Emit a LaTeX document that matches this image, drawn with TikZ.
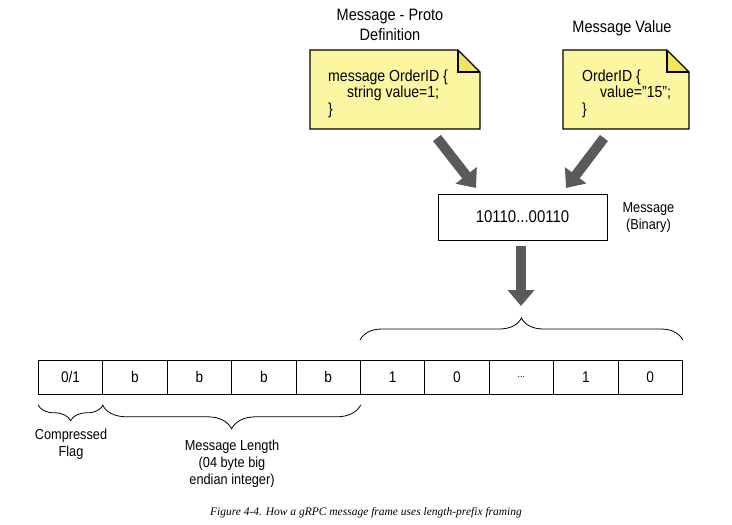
\documentclass[tikz,border=0pt]{standalone}
\usepackage{fontspec}
\setmainfont{Liberation Sans}[FakeStretch=0.88]
\newfontfamily\capfont{Liberation Serif}
\usetikzlibrary{arrows.meta,calc,decorations.pathreplacing}
\definecolor{notey}{HTML}{FAF7A0}
\definecolor{foldy}{HTML}{F2E45C}
\definecolor{arrg}{HTML}{5A5A5A}
\begin{document}
\begin{tikzpicture}[x=1pt,y=-1pt,
  cell/.style={draw,line width=0.8pt,minimum width=64.4pt,minimum height=34pt,inner sep=0pt,anchor=north west,font=\fontsize{15.5}{16}\selectfont},
  bigarrow/.style={draw=arrg,line width=10pt,-{Triangle[length=16pt,width=26pt]},color=arrg},
  lbl/.style={font=\fontsize{14.5}{17}\selectfont,align=center},
  ttl/.style={font=\fontsize{16.5}{20}\selectfont,align=center},
  code/.style={font=\fontsize{16}{16}\selectfont,anchor=west,inner sep=0pt},
  brc/.style={decorate,decoration={brace,amplitude=#1},line width=0.8pt}
]
\useasboundingbox (0,0) rectangle (732,525);

% notes
\newcommand\notebox[5]{%
  \fill[notey] (#1,#3) -- (#2-#5,#3) -- (#2,#3+#5) -- (#2,#4) -- (#1,#4) -- cycle;
  \fill[foldy] (#2-#5,#3) -- (#2,#3+#5) -- (#2-#5,#3+#5) -- cycle;
  \draw[line width=1.1pt] (#1,#3) -- (#2-#5,#3) -- (#2,#3+#5) -- (#2,#4) -- (#1,#4) -- cycle;
  \draw[line width=1.1pt] (#2-#5,#3) -- (#2-#5,#3+#5) -- (#2,#3+#5);
}
\notebox{310}{480}{50}{129}{22}
\notebox{563}{689}{50}{129}{22}

\node[ttl] (tl) at (390,25) {Message - Proto\\Definition};
\node[ttl] (tr) at (622,28) {Message Value};

\node[code] (l1) at (328,77) {message OrderID \{};
\node[code] (l2) at (347,93) {string value=1;};
\node[code] (l3) at (328,110) {\}};
\node[code] (r1) at (582,77) {OrderID \{};
\node[code] (r2) at (600,93) {value="15";};
\node[code] (r3) at (582,110) {\}};

% message box
\node[draw,line width=0.8pt,minimum width=169pt,minimum height=46pt,inner sep=0pt,font=\fontsize{17}{18}\selectfont] (msg) at (522.5,217) {10110...00110};
\node[lbl,anchor=west] (msgl) at (619,218) {Message\\(Binary)};

% arrows
\coordinate (a1s) at (437,138);
\coordinate (a1e) at (476,188);
\coordinate (a2s) at (604,138);
\coordinate (a2e) at (566,188);
\draw[bigarrow] (a1s) -- (a1e);
\draw[bigarrow] (a2s) -- (a2e);
\coordinate (a3s) at (521,246);
\coordinate (a3e) at (521,306);
\draw[bigarrow] (a3s) -- (a3e);

% cells
\foreach \i/\t in {1/0\slash1,2/b,3/b,4/b,5/b,6/1,7/0,8/{\fontsize{10}{10}\selectfont...},9/1,10/0}{
  \node[cell] (c\i) at ({38+(\i-1)*64.4},360) {\t};
}

% braces
\draw[brc=22pt] ($(c6.north west)+(0,-20)$) -- ($(c10.north east)+(0,-20)$);
\draw[brc=16pt] ($(c1.south east)+(0,10)$) -- ($(c1.south west)+(0,10)$);
\draw[brc=24pt] ($(c5.south east)+(0,10)$) -- ($(c2.south west)+(0,10)$);

\node[lbl] (cf) at (71,444) {Compressed\\Flag};
\node[lbl] (ml) at (232,464) {Message Length\\(04 byte big\\endian integer)};

\node[font=\capfont\itshape\fontsize{11.5}{12}\selectfont] (cap) at (366,513) {Figure 4-4. How a gRPC message frame uses length-prefix framing};
\end{tikzpicture}
\end{document}
